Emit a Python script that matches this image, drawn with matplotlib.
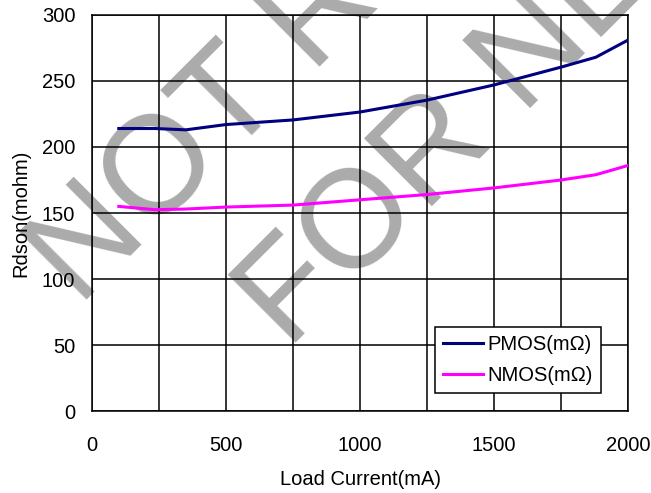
import matplotlib.pyplot as plt
import numpy as np

plt.rcParams["font.family"] = ["Liberation Sans", "DejaVu Sans"]

# data
current = [100, 235, 350, 500, 750, 1000, 1250, 1500, 1750, 1880, 2000]
pmos = [214, 214, 213, 217, 220.5, 226.5, 235.5, 247, 260.5, 268, 281]
nmos = [155, 152.5, 153, 154.5, 156, 160, 164, 169, 175, 179, 186]

x_ticks = [0, 500, 1000, 1500, 2000]
y_ticks = [0, 50, 100, 150, 200, 250, 300]

fig = plt.figure(figsize=(6.51, 4.93), dpi=100)
ax = fig.add_axes([0.1413, 0.1663, 0.8234, 0.8033])
ax.set_facecolor("none")

# watermark, behind everything
wm = dict(rotation=45, rotation_mode="anchor", ha="left", va="baseline",
          fontsize=100, color="#ababab", zorder=-1)
fig.text(0.1214, 0.3773, "NOT RECOMMENDED", **wm)
fig.text(0.4424, 0.2900, "FOR NEW DESIGN", **wm)

ax.plot(current, pmos, color="#000080", lw=2.2, label="PMOS(m\u03a9)", zorder=3)
ax.plot(current, nmos, color="#ff00ff", lw=2.2, label="NMOS(m\u03a9)", zorder=3)

ax.set_xlim(0, 2000)
ax.set_ylim(0, 300)
ax.set_xticks(x_ticks)
ax.set_xticks(np.arange(0, 2001, 250), minor=True)
ax.set_yticks(y_ticks)
ax.grid(True, which="both", color="black", lw=1.1)
ax.tick_params(which="both", length=0, labelsize=14.5)
ax.tick_params(axis="x", pad=18)
ax.tick_params(axis="y", pad=12)
for s in ax.spines.values():
    s.set_color("black")
    s.set_linewidth(1.1)

ax.set_xlabel("Load Current(mA)", fontsize=14.5, labelpad=11)
ax.set_ylabel("Rdson(mohm)", fontsize=14.5, labelpad=8)

leg = ax.legend(loc="lower left", bbox_to_anchor=(0.640, 0.045), borderaxespad=0,
                fontsize=14.5, fancybox=False, edgecolor="black", framealpha=1,
                handlelength=2.0, handletextpad=0.2, labelspacing=0.6,
                borderpad=0.4)
leg.get_frame().set_linewidth(1.1)

fig.savefig("out.png", dpi=100)
